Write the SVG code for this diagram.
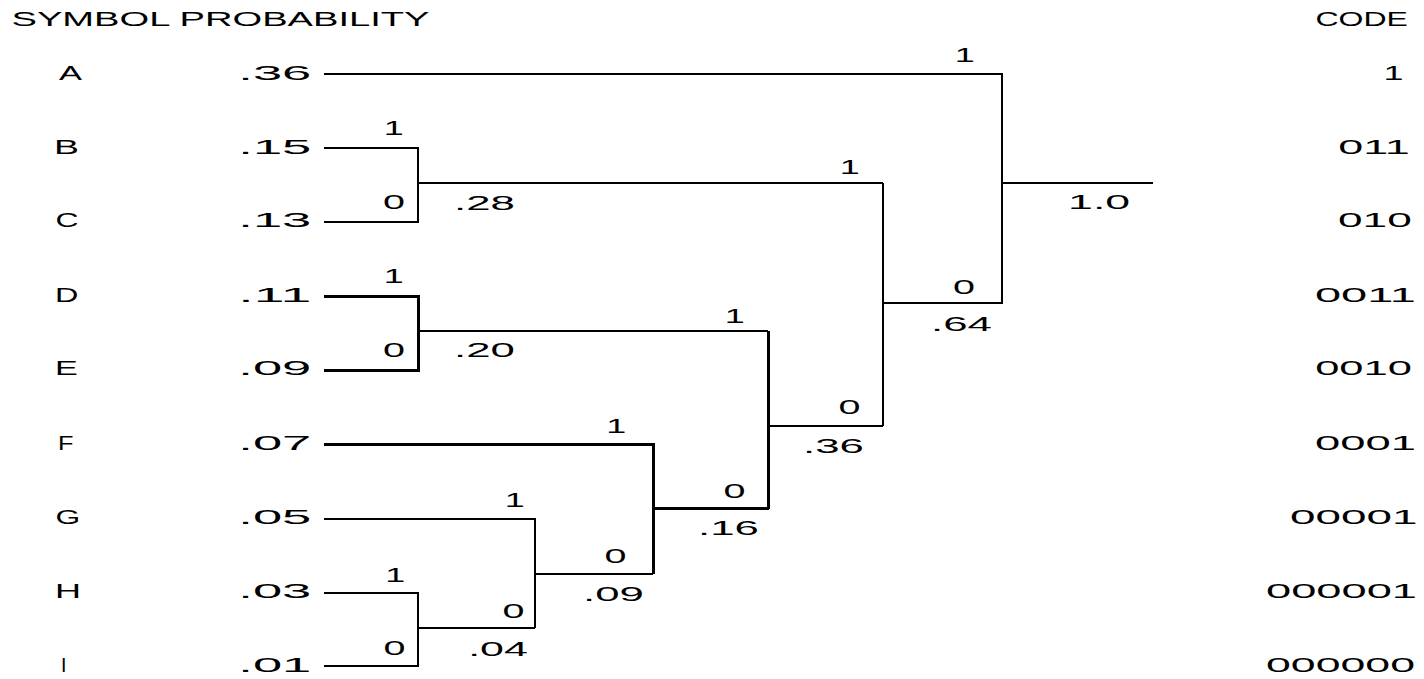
<svg xmlns="http://www.w3.org/2000/svg" width="1424" height="679" viewBox="0 0 1424 679">
  <style>
    text { font-family: "Liberation Sans", Arial, sans-serif; font-size: 19.5px; fill: #000; }
    .ln { fill: none; stroke: #000; stroke-width: 2; shape-rendering: crispEdges; }
    .lnb { fill: none; stroke: #000; stroke-width: 3; shape-rendering: crispEdges; }
  </style>
  <rect width="1424" height="679" fill="#fff"/>

  <!-- column headings -->
  <g id="header">
    <text x="11.5" y="26" textLength="418" lengthAdjust="spacingAndGlyphs">SYMBOL PROBABILITY</text>
    <text x="1315.4" y="26" textLength="92.5" lengthAdjust="spacingAndGlyphs">CODE</text>
  </g>

  <!-- tree branches -->
  <g id="connectors">
    <!-- A to root -->
    <path class="ln" d="M324 74 H1002 V303 H883"/>
    <!-- B + C -> .28 -->
    <path class="ln" d="M324 148 H418 V222 H324"/>
    <path class="ln" d="M418 183 H883"/>
    <!-- D + E -> .20 -->
    <path class="lnb" d="M324 296.5 H418.5 V370.5 H324"/>
    <path class="ln" d="M418 331 H768"/>
    <!-- H + I -> .04 -->
    <path class="ln" d="M324 593 H418 V666 H324"/>
    <path class="ln" d="M418 628 H535"/>
    <!-- G + .04 -> .09 -->
    <path class="ln" d="M324 519 H535 V628"/>
    <path class="ln" d="M535 574 H653"/>
    <!-- F + .09 -> .16 -->
    <path class="lnb" d="M324 444.5 H653.5 V574"/>
    <path class="lnb" d="M653 508.5 H768.5"/>
    <!-- .20 + .16 -> .36 -->
    <path class="lnb" d="M768.5 331 V508.5"/>
    <path class="ln" d="M768 426 H883"/>
    <!-- .28 + .36 -> .64 -->
    <path class="ln" d="M883 183 V426"/>
    <!-- root 1.0 -->
    <path class="ln" d="M1002 183 H1153"/>
  </g>

  <!-- bit labels on the branches -->
  <g id="branch-labels">
    <text x="383.8" y="135" textLength="20" lengthAdjust="spacingAndGlyphs">1</text>
    <text x="383.1" y="209" textLength="22" lengthAdjust="spacingAndGlyphs">0</text>
    <text x="383.8" y="283" textLength="20" lengthAdjust="spacingAndGlyphs">1</text>
    <text x="383.1" y="357" textLength="22" lengthAdjust="spacingAndGlyphs">0</text>
    <text x="385.3" y="582" textLength="20" lengthAdjust="spacingAndGlyphs">1</text>
    <text x="383.6" y="655" textLength="22" lengthAdjust="spacingAndGlyphs">0</text>
    <text x="504.8" y="507" textLength="20" lengthAdjust="spacingAndGlyphs">1</text>
    <text x="502.6" y="618" textLength="22" lengthAdjust="spacingAndGlyphs">0</text>
    <text x="606.3" y="433" textLength="20" lengthAdjust="spacingAndGlyphs">1</text>
    <text x="604.6" y="563" textLength="22" lengthAdjust="spacingAndGlyphs">0</text>
    <text x="724.8" y="323" textLength="20" lengthAdjust="spacingAndGlyphs">1</text>
    <text x="723.6" y="498" textLength="22" lengthAdjust="spacingAndGlyphs">0</text>
    <text x="839.8" y="174" textLength="20" lengthAdjust="spacingAndGlyphs">1</text>
    <text x="838.6" y="414" textLength="22" lengthAdjust="spacingAndGlyphs">0</text>
    <text x="954.8" y="62" textLength="20" lengthAdjust="spacingAndGlyphs">1</text>
    <text x="953.1" y="294" textLength="22" lengthAdjust="spacingAndGlyphs">0</text>
  </g>

  <!-- leaf symbols: name, probability, code -->
  <g id="leaf-A">
    <text x="59" y="80" textLength="23" lengthAdjust="spacingAndGlyphs">A</text>
    <text x="238.3" y="80" textLength="73" lengthAdjust="spacingAndGlyphs">.36</text>
    <text x="1383.5" y="80" textLength="20" lengthAdjust="spacingAndGlyphs">1</text>
  </g>
  <g id="leaf-B">
    <text x="54" y="154" textLength="25" lengthAdjust="spacingAndGlyphs">B</text>
    <text x="238.3" y="154" textLength="73" lengthAdjust="spacingAndGlyphs">.15</text>
    <text x="1338.2" y="154" textLength="71.7" lengthAdjust="spacingAndGlyphs">011</text>
  </g>
  <g id="leaf-C">
    <text x="55.4" y="227" textLength="23" lengthAdjust="spacingAndGlyphs">C</text>
    <text x="238.3" y="227" textLength="73" lengthAdjust="spacingAndGlyphs">.13</text>
    <text x="1338" y="227" textLength="73.8" lengthAdjust="spacingAndGlyphs">010</text>
  </g>
  <g id="leaf-D">
    <text x="55" y="302" textLength="23.4" lengthAdjust="spacingAndGlyphs">D</text>
    <text x="238.3" y="302" textLength="73" lengthAdjust="spacingAndGlyphs">.11</text>
    <text x="1315" y="302" textLength="101" lengthAdjust="spacingAndGlyphs">0011</text>
  </g>
  <g id="leaf-E">
    <text x="55" y="375" textLength="22.8" lengthAdjust="spacingAndGlyphs">E</text>
    <text x="238.3" y="375" textLength="73" lengthAdjust="spacingAndGlyphs">.09</text>
    <text x="1315.2" y="375" textLength="96.8" lengthAdjust="spacingAndGlyphs">0010</text>
  </g>
  <g id="leaf-F">
    <text x="58" y="450" textLength="15.5" lengthAdjust="spacingAndGlyphs">F</text>
    <text x="238.3" y="450" textLength="73" lengthAdjust="spacingAndGlyphs">.07</text>
    <text x="1315" y="450" textLength="101" lengthAdjust="spacingAndGlyphs">0001</text>
  </g>
  <g id="leaf-G">
    <text x="55.4" y="524" textLength="24.7" lengthAdjust="spacingAndGlyphs">G</text>
    <text x="238.3" y="524" textLength="73" lengthAdjust="spacingAndGlyphs">.05</text>
    <text x="1290" y="524" textLength="127.5" lengthAdjust="spacingAndGlyphs">00001</text>
  </g>
  <g id="leaf-H">
    <text x="55" y="598" textLength="26" lengthAdjust="spacingAndGlyphs">H</text>
    <text x="238.3" y="598" textLength="73" lengthAdjust="spacingAndGlyphs">.03</text>
    <text x="1266" y="598" textLength="151" lengthAdjust="spacingAndGlyphs">000001</text>
  </g>
  <g id="leaf-I">
    <text x="61" y="672">I</text>
    <text x="238.3" y="672" textLength="73" lengthAdjust="spacingAndGlyphs">.01</text>
    <text x="1266" y="672" textLength="149" lengthAdjust="spacingAndGlyphs">000000</text>
  </g>

  <!-- merged nodes with their combined probabilities -->
  <g id="node-28"><text x="454.1" y="210" textLength="60.8" lengthAdjust="spacingAndGlyphs">.28</text></g>
  <g id="node-20"><text x="454.1" y="357" textLength="60.8" lengthAdjust="spacingAndGlyphs">.20</text></g>
  <g id="node-04"><text x="468.2" y="656" textLength="59.7" lengthAdjust="spacingAndGlyphs">.04</text></g>
  <g id="node-09"><text x="583.1" y="601" textLength="60.8" lengthAdjust="spacingAndGlyphs">.09</text></g>
  <g id="node-16"><text x="698.1" y="535" textLength="60.8" lengthAdjust="spacingAndGlyphs">.16</text></g>
  <g id="node-36"><text x="803.1" y="453" textLength="60.8" lengthAdjust="spacingAndGlyphs">.36</text></g>
  <g id="node-64"><text x="931.1" y="331" textLength="60.8" lengthAdjust="spacingAndGlyphs">.64</text></g>
  <g id="node-root"><text x="1068.1" y="209" textLength="62" lengthAdjust="spacingAndGlyphs">1.0</text></g>
</svg>
